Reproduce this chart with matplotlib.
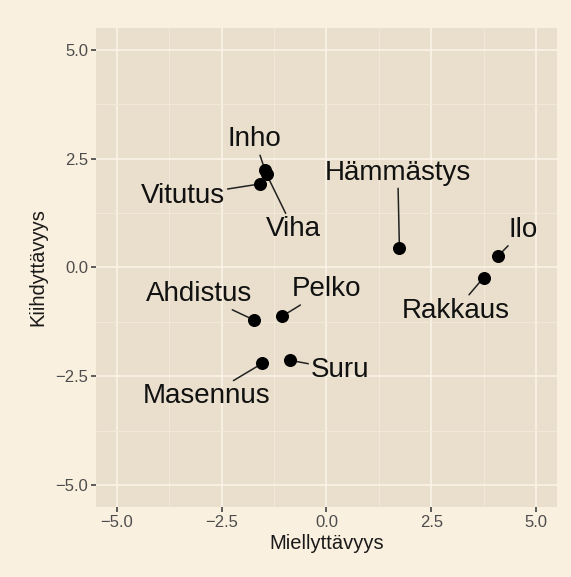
import matplotlib.pyplot as plt

# emotions: pleasantness (x) vs arousal (y)
names = ["Inho", "Viha", "Vitutus", "Hämmästys", "Ilo", "Rakkaus",
         "Ahdistus", "Pelko", "Masennus", "Suru"]
miell = [-1.47, -1.43, -1.58, 1.74, 4.09, 3.75, -1.72, -1.06, -1.53, -0.87]
kiihd = [2.24, 2.14, 1.92, 0.44, 0.26, -0.23, -1.21, -1.12, -2.20, -2.13]

# label positions (text centre x, baseline y)
label_x = [-1.71, -0.79, -3.43, 1.70, 4.70, 3.08, -3.05, -0.01, -2.85, 0.33]
label_y = [2.78, 0.72, 1.48, 2.02, 0.70, -1.15, -0.77, -0.66, -3.12, -2.51]

ticks = [-5.0, -2.5, 0.0, 2.5, 5.0]
minor = [-3.75, -1.25, 1.25, 3.75]

plt.rcParams['font.family'] = ['Liberation Sans', 'DejaVu Sans']

fig = plt.figure(figsize=(5.71, 5.77), dpi=100, facecolor='#FAF0DF')
ax = fig.add_axes([0.1681, 0.1213, 0.8074, 0.8302])
ax.set_facecolor('#E9DFCC')

ax.set_xlim(-5.5, 5.5)
ax.set_ylim(-5.5, 5.5)
ax.set_xticks(ticks)
ax.set_yticks(ticks)
ax.set_xticklabels(['\u22125.0', '\u22122.5', '0.0', '2.5', '5.0'])
ax.set_yticklabels(['\u22125.0', '\u22122.5', '0.0', '2.5', '5.0'])
ax.set_xticks(minor, minor=True)
ax.set_yticks(minor, minor=True)
ax.grid(True, which='major', color='#FBF3E6', lw=1.2)
ax.grid(True, which='minor', color='#F3EADA', lw=0.6)
ax.tick_params(which='minor', length=0)
ax.tick_params(which='major', length=3.5, width=1.1, color='#333333',
               labelsize=12, labelcolor='#4D4D4D', pad=2)
ax.set_axisbelow(True)
for s in ax.spines.values():
    s.set_visible(False)

ax.set_xlabel('Miellyttävyys', fontsize=14.5, color='#1a1a1a', labelpad=3)
ax.set_ylabel('Kiihdyttävyys', fontsize=14.5, color='#1a1a1a', labelpad=6)

for i, n in enumerate(names):
    ax.annotate(n, xy=(miell[i], kiihd[i]), xytext=(label_x[i], label_y[i]),
                ha='center', va='baseline', fontsize=20, color='#111111',
                arrowprops=dict(arrowstyle='-', color='#222222', lw=1.1,
                                shrinkA=0, shrinkB=0))

ax.scatter(miell, kiihd, s=70, color='black', zorder=5)

fig.savefig('out.png', dpi=100, facecolor=fig.get_facecolor())
